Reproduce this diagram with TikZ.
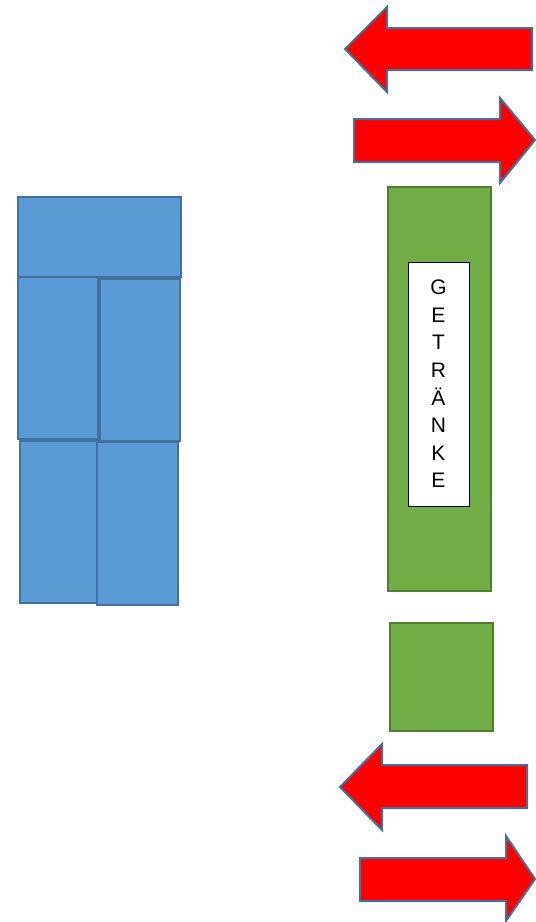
\documentclass[tikz,border=0pt]{standalone}
\usepackage{fontspec}
\setmainfont{Liberation Sans}
\usetikzlibrary{positioning}
\definecolor{boxblue}{HTML}{5B9BD5}
\definecolor{lineblue}{HTML}{41719C}
\definecolor{boxgreen}{HTML}{70AD47}
\definecolor{linegreen}{HTML}{507E32}
\begin{document}
\begin{tikzpicture}[x=1pt, y=-1pt,
    bluebox/.style={draw=lineblue, fill=boxblue, line width=2pt},
    greenbox/.style={draw=linegreen, fill=boxgreen, line width=2pt},
    redarrow/.style={draw=lineblue, fill=red, line width=2pt, line join=miter}]
    \useasboundingbox (0,0) rectangle (536,922);

    \draw[redarrow] (345,49) -- (387,7) -- (387,28) -- (532,28) -- (532,70) -- (387,70) -- (387,92) -- cycle;
    \draw[redarrow] (535,140) -- (500,98) -- (500,119) -- (354,119) -- (354,162) -- (500,162) -- (500,183) -- cycle;

    \draw[bluebox] (18,197) rectangle (181,277);
    \draw[bluebox] (18,277) rectangle (98,439);
    \draw[bluebox] (100,279) rectangle (180,441);
    \draw[bluebox] (20,441) rectangle (99,603);
    \draw[bluebox] (97,442) rectangle (178,605);

    \draw[greenbox] (388,187) rectangle (491,591);
    \node[draw=black, fill=white, line width=0.8pt, minimum width=61pt, minimum height=244pt,
          inner sep=0pt, align=center, font=\fontsize{21}{27.6}\selectfont] (getraenke) at (438.5,384)
          {G\\E\\T\\R\\Ä\\N\\K\\E};
    \draw[greenbox] (390,623) rectangle (493,731);

    \draw[redarrow] (340,787) -- (382,744) -- (382,765) -- (527,765) -- (527,808) -- (382,808) -- (382,830) -- cycle;
    \draw[redarrow] (535,879) -- (506,836) -- (506,858) -- (360,858) -- (360,901) -- (506,901) -- (506,921) -- cycle;
\end{tikzpicture}
\end{document}
